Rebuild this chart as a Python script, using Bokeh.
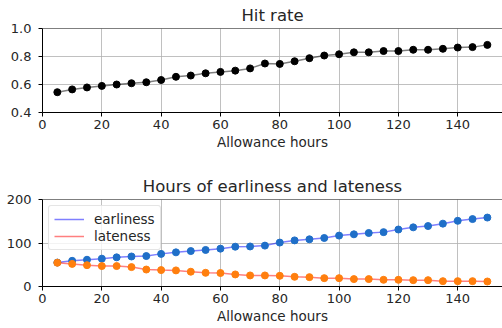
from bokeh.plotting import figure
from bokeh.layouts import column
from bokeh.models import Range1d, FixedTicker, Legend, LegendItem, Span, PrintfTickFormatter
from bokeh.embed import file_html
from bokeh.resources import INLINE

hours = [5, 10, 15, 20, 25, 30, 35, 40, 45, 50, 55, 60, 65, 70, 75,
         80, 85, 90, 95, 100, 105, 110, 115, 120, 125, 130, 135, 140, 145, 150]
hit_rate = [0.545, 0.565, 0.579, 0.590, 0.600, 0.609, 0.616, 0.632, 0.655, 0.664,
            0.680, 0.690, 0.699, 0.715, 0.750, 0.747, 0.766, 0.788, 0.807, 0.816,
            0.830, 0.830, 0.839, 0.839, 0.848, 0.848, 0.855, 0.864, 0.867, 0.883]
earliness = [55, 59, 61.5, 64, 67, 69, 70, 75, 78.5, 81.5, 84, 87, 91.5, 92, 94,
             101, 106, 108.5, 111.5, 117, 120, 123, 125, 131, 136, 139, 144.5, 151, 155, 158.5]
lateness = [54.6, 52, 49, 47, 47, 44.6, 39, 37.7, 37, 34, 31.5, 31, 27.7, 25.4, 25.4,
            24.6, 22.3, 21.5, 19.2, 19.2, 17, 17, 15.4, 15.4, 14.6, 14.6, 12.3, 12.3, 12.3, 11.5]
x_ticks = [0, 20, 40, 60, 80, 100, 120, 140]
hit_ticks = [0.4, 0.6, 0.8, 1.0]
hours_ticks = [0, 100, 200]

FONT = "DejaVu Sans"
TXT = "#262626"


def make_fig(title, height, border_top, border_bottom, y_lo, y_hi, yticks, fmt=None):
    p = figure(width=502, height=height, output_backend="svg", toolbar_location=None,
               x_range=Range1d(0, 155.1), y_range=Range1d(y_lo, y_hi),
               min_border_left=42, min_border_right=0,
               min_border_top=border_top, min_border_bottom=border_bottom,
               x_axis_label="Allowance hours")
    p.outline_line_color = None
    p.background_fill_color = "white"
    p.border_fill_color = "white"
    p.title.text = title
    p.title.align = "center"
    p.title.text_font = FONT
    p.title.text_font_size = "16.5px"
    p.title.text_font_style = "normal"
    p.title.text_color = TXT
    p.title.standoff = 7
    for ax in (p.xaxis[0], p.yaxis[0]):
        ax.axis_line_color = "black"
        ax.axis_line_width = 1
        ax.major_tick_line_color = "black"
        ax.major_tick_in = 0
        ax.major_tick_out = 4
        ax.minor_tick_line_color = None
        ax.major_label_text_font = FONT
        ax.major_label_text_font_size = "13px"
        ax.major_label_text_color = TXT
        ax.axis_label_text_font = FONT
        ax.axis_label_text_font_size = "13.5px"
        ax.axis_label_text_font_style = "normal"
        ax.axis_label_text_color = TXT
    p.xaxis[0].ticker = FixedTicker(ticks=x_ticks)
    p.yaxis[0].ticker = FixedTicker(ticks=yticks)
    if fmt:
        p.yaxis[0].formatter = PrintfTickFormatter(format=fmt)
    p.xaxis[0].major_label_standoff = 3
    p.xaxis[0].axis_label_standoff = 2
    p.yaxis[0].major_label_standoff = 7
    for g in (p.xgrid[0], p.ygrid[0]):
        g.grid_line_color = "#b0b0b0"
        g.grid_line_width = 1
        g.grid_line_alpha = 0.8
    p.xgrid[0].ticker = FixedTicker(ticks=x_ticks)
    p.ygrid[0].ticker = FixedTicker(ticks=yticks)
    p.add_layout(Span(location=y_hi, dimension="width", line_color="black", line_width=1))
    return p


p1 = make_fig("Hit rate", 165, 25, 53, 0.4, 1.0, hit_ticks, fmt="%.1f")
p1.line(hours, hit_rate, line_color="black", line_alpha=0.5, line_width=1.5)
p1.scatter(hours, hit_rate, size=7, fill_color="black", line_color="black")

p2 = make_fig("Hours of earliness and lateness", 163, 34, 42, 0, 200, hours_ticks)
le = p2.line(hours, earliness, line_color="blue", line_alpha=0.5, line_width=1.5)
p2.scatter(hours, earliness, size=7, fill_color="#1f6fc8", line_color="#1f6fc8")
ll = p2.line(hours, lateness, line_color="red", line_alpha=0.5, line_width=1.5)
p2.scatter(hours, lateness, size=7, fill_color="#ff7f0e", line_color="#ff7f0e")

legend = Legend(items=[LegendItem(label="earliness", renderers=[le]),
                       LegendItem(label="lateness", renderers=[ll])],
                location="top_left")
legend.margin = 6
legend.padding = 5
legend.spacing = 1
legend.glyph_width = 30
legend.glyph_height = 16
legend.label_height = 16
legend.label_standoff = 10
legend.label_text_font = FONT
legend.label_text_font_size = "13.5px"
legend.label_text_color = TXT
legend.border_line_color = "#cccccc"
legend.border_line_width = 1
legend.background_fill_alpha = 0.8
legend.border_radius = 3
p2.add_layout(legend)

layout = column(p1, p2, spacing=0)
open("out.html", "w").write(file_html(layout, INLINE))
